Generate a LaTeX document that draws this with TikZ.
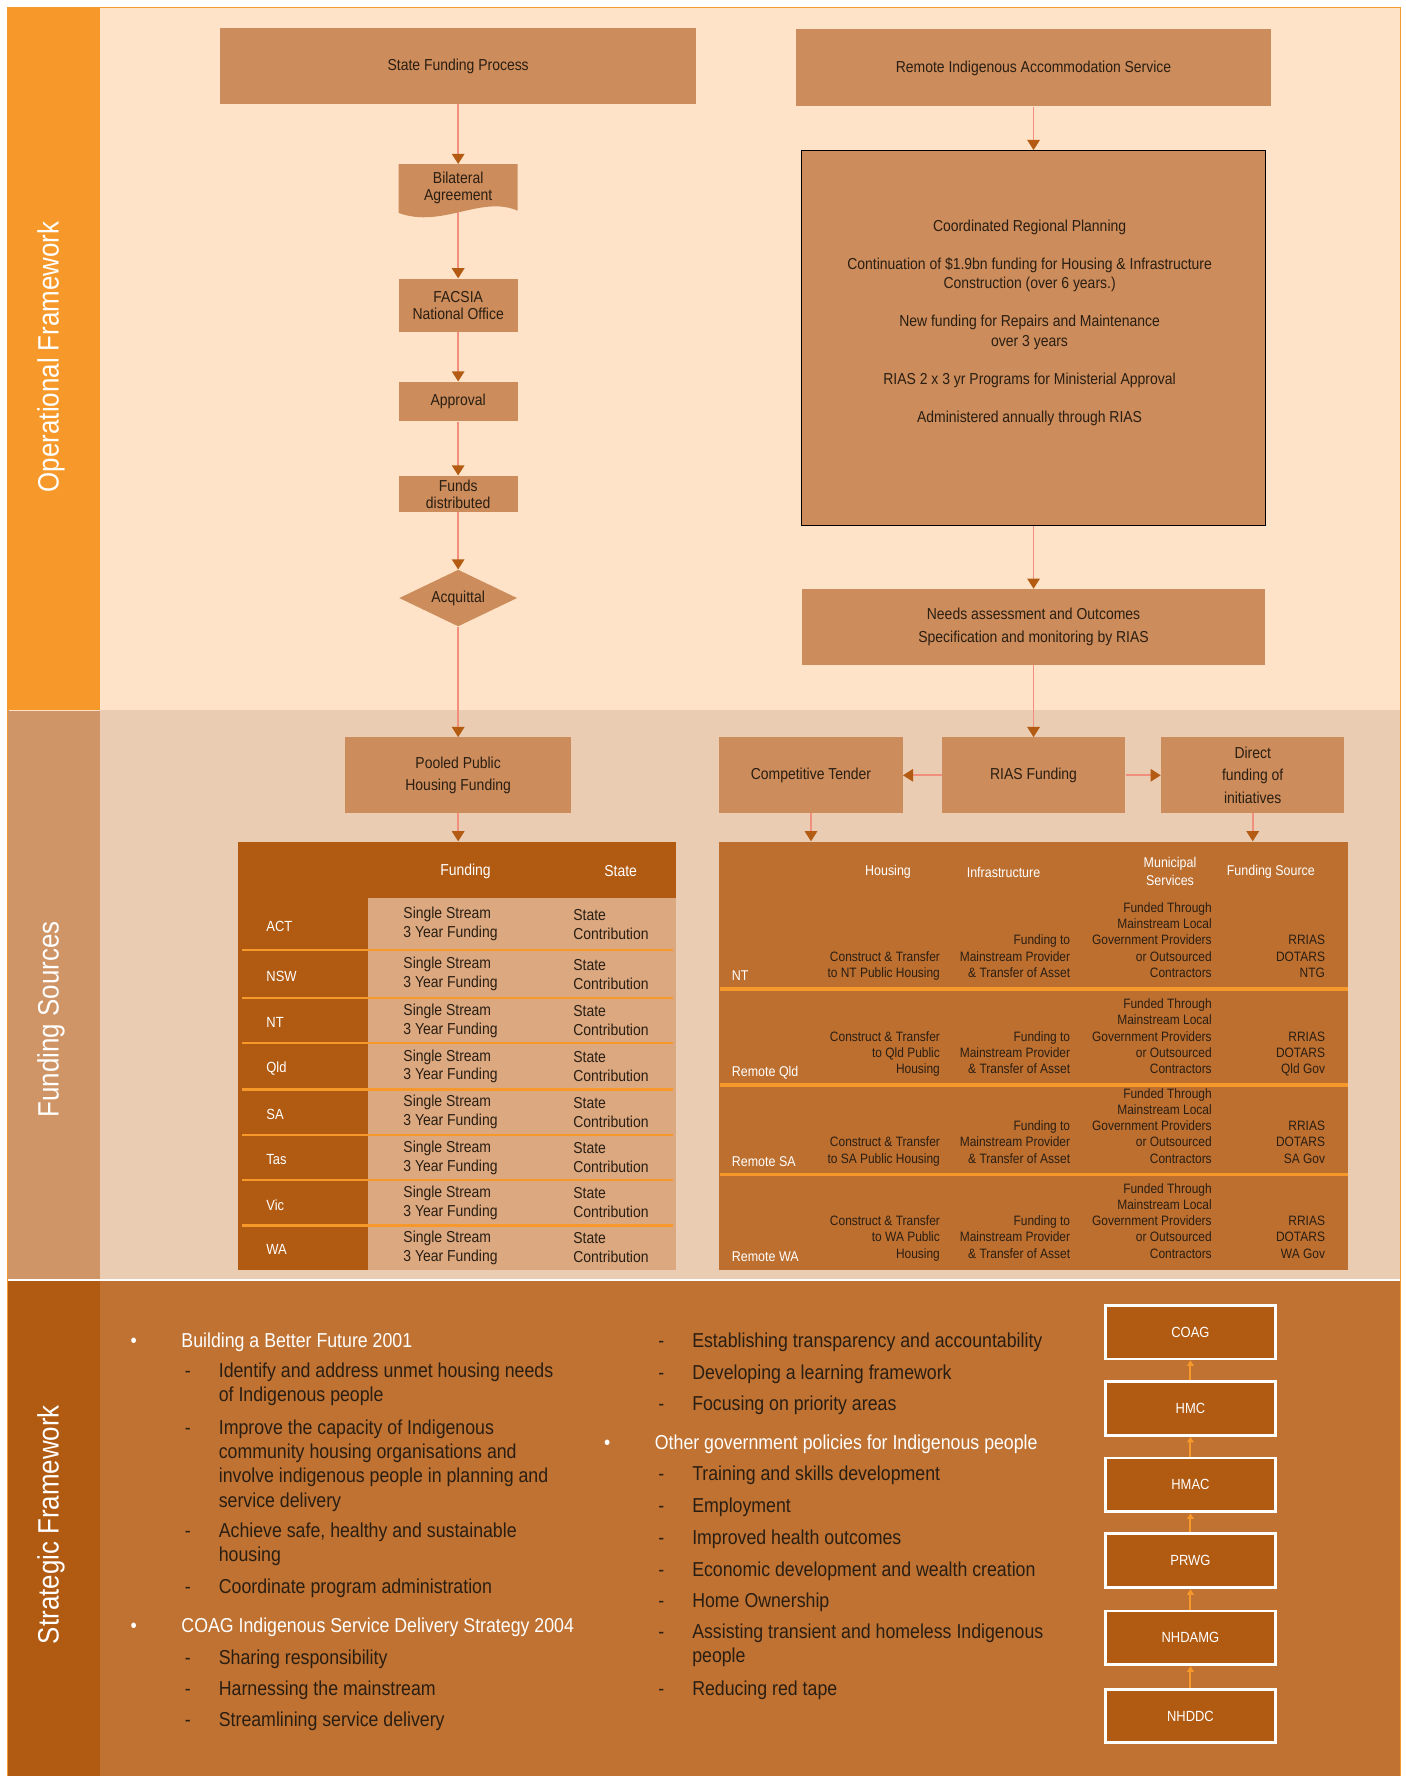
\documentclass[tikz,border=0pt]{standalone}
\usepackage{fontspec}
\setmainfont{Liberation Sans}[FakeStretch=0.88]
\usetikzlibrary{arrows.meta,shapes.geometric}

\definecolor{opside}{HTML}{F7992A}
\definecolor{opback}{HTML}{FEE3C8}
\definecolor{fuside}{HTML}{CF9566}
\definecolor{fuback}{HTML}{EACCB2}
\definecolor{stside}{HTML}{B15A11}
\definecolor{stback}{HTML}{BF7232}
\definecolor{boxfill}{HTML}{CC8C5B}
\definecolor{ink}{HTML}{2A1E12}
\definecolor{linkline}{HTML}{F28E7C}
\definecolor{tipfill}{HTML}{B35B12}
\definecolor{tablight}{HTML}{DBA880}
\definecolor{tabmid}{HTML}{BD6F30}

\tikzset{
    flowbox/.style={fill=boxfill, text=ink, align=center, inner sep=0pt,
        font=\fontsize{14}{20}\selectfont},
    smallbox/.style={flowbox, minimum width=105pt, font=\fontsize{14}{15}\selectfont},
    link/.style={draw=linkline, line width=1.5pt, ->},
    sidelabel/.style={text=white, rotate=90, font=\fontsize{26}{30}\selectfont},
    headtext/.style={text=white, align=center, inner sep=0pt},
    celltext/.style={text=ink, align=left, inner sep=0pt, font=\fontsize{14}{16.7}\selectfont},
    regtext/.style={text=ink, align=right, inner sep=0pt, text depth=3pt,
        font=\fontsize{12}{14.3}\selectfont},
    bodytext/.style={text=ink, inner sep=0pt, font=\fontsize{17.8}{21}\selectfont},
    stackbox/.style={fill=stside, draw=white, line width=2.5pt, text=white,
        minimum width=150pt, minimum height=47.5pt, font=\fontsize{13}{15}\selectfont},
    stacklink/.style={draw=opside, line width=1.8pt, -{Triangle[width=6pt,length=5pt]}}
}

\begin{document}
\begin{tikzpicture}[x=1pt, y=-1pt, >={Triangle[width=11pt,length=9pt,color=tipfill]}]
    % 1. Page, bands and frame
    \useasboundingbox (0,0) rectangle (1241,1568);
    \fill[opback] (7,7) rectangle (1236,627);
    \fill[fuback] (7,627) rectangle (1236,1130);
    \fill[stback] (7,1130) rectangle (1236,1568);
    \fill[opside] (7,7) rectangle (88,627);
    \fill[fuside] (7,627) rectangle (88,1130);
    \fill[stside] (7,1130) rectangle (88,1568);
    \draw[opback, line width=1pt] (8,627) -- (88,627);
    \draw[white, line width=1.5pt] (7,1130) -- (1236,1130);
    \draw[opside, line width=1.5pt] (6.5,1568) -- (6.5,6.5) -- (1236.5,6.5) -- (1236.5,1568);

    \node[sidelabel] (opf) at (45,315) {Operational Framework};
    \node[sidelabel] (fus) at (45,900) {Funding Sources};
    \node[sidelabel] (stf) at (45,1346) {Strategic Framework};

    % 2. State funding column
    \node[flowbox, minimum width=420pt, minimum height=67pt] (sfp) at (404.5,58.5) {State Funding Process};
    \fill[boxfill] (352,145) -- (457,145) -- (457,186)
        .. controls (425,172) and (390,202) .. (352,188) -- cycle;
    \node[smallbox, fill=none, minimum height=42pt] (bil) at (404.5,166) {Bilateral\\Agreement};
    \node[smallbox, minimum height=47pt] (facsia) at (404.5,269.5) {FACSIA\\National Office};
    \node[smallbox, minimum height=35pt] (appr) at (404.5,354.5) {Approval};
    \node[smallbox, minimum height=32pt] (funds) at (404.5,436) {Funds\\distributed};
    \node[flowbox, diamond, aspect=2.08, minimum width=104pt, minimum height=50pt] (acq) at (404.5,528) {Acquittal};
    \node[flowbox, minimum width=200pt, minimum height=67pt] (pooled) at (404.5,684.5) {Pooled Public\\Housing Funding};

    \draw[link] (sfp) -- (bil);
    \draw[link] (bil) -- (facsia);
    \draw[link] (facsia) -- (appr);
    \draw[link] (appr) -- (funds);
    \draw[link] (funds) -- (acq);
    \draw[link] (acq) -- (pooled);

    % 3. RIAS column
    \node[flowbox, minimum width=420pt, minimum height=68pt] (rias) at (912.5,60) {Remote Indigenous Accommodation Service};
    \node[flowbox, draw=black, line width=1pt, minimum width=409pt, minimum height=331pt] (plan) at (912.5,298.5) {};
    \node[flowbox, fill=none, font=\fontsize{14}{17.5}\selectfont] (plantext) at (909,285)
        {Coordinated Regional Planning\\[16pt]
         Continuation of \$1.9bn funding for Housing \& Infrastructure\\
         Construction (over 6 years.)\\[16pt]
         New funding for Repairs and Maintenance\\over 3 years\\[16pt]
         RIAS 2 x 3 yr Programs for Ministerial Approval\\[16pt]
         Administered annually through RIAS};
    \node[flowbox, minimum width=408pt, minimum height=67pt] (needs) at (912.5,553.5)
        {Needs assessment and Outcomes\\Specification and monitoring by RIAS};
    \node[flowbox, minimum width=162pt, minimum height=67pt] (riasf) at (912.5,684.5) {RIAS Funding};
    \node[flowbox, minimum width=162pt, minimum height=67pt] (ct) at (716,684.5) {Competitive Tender};
    \node[flowbox, minimum width=162pt, minimum height=67pt, font=\fontsize{14}{19.5}\selectfont] (direct) at (1106,684.5)
        {Direct\\funding of\\initiatives};

    \draw[link] (rias) -- (plan);
    \draw[link] (plan) -- (needs);
    \draw[link] (needs) -- (riasf);
    \draw[link] (riasf) -- (ct);
    \draw[link] (riasf) -- (direct);

    % 4. Funding tables
    \node[fill=stside, minimum width=387pt, minimum height=378pt, inner sep=0pt] (ltab) at (403.5,932) {};
    \fill[tablight] (325,793) rectangle (597,1121);
    \node[headtext, font=\fontsize{14}{16}\selectfont] (lhf) at (411,769) {Funding};
    \node[headtext, font=\fontsize{14}{16}\selectfont] (lhs) at (548,769) {State};
    \foreach \st/\ytop/\ybot [count=\i] in {ACT/793/839, NSW/839/881, NT/881/921, Qld/921/962,
        SA/962/1002, Tas/1002/1042, Vic/1042/1082, WA/1082/1121}{
        \node[headtext, anchor=west, font=\fontsize{13}{16}\selectfont] (st\i) at (235,{(\ytop+\ybot)/2+2}) {\st};
        \node[celltext, anchor=west] (sgl\i) at (356,{(\ytop+\ybot)/2}) {Single Stream\\3 Year Funding};
        \node[celltext, anchor=west] (ctb\i) at (506,{(\ytop+\ybot)/2}) {State\\Contribution};
    }
    \foreach \y in {839,881,921,962,1002,1042,1082}
        \draw[opside, line width=2pt] (214,\y) -- (594,\y);

    \node[fill=tabmid, minimum width=555pt, minimum height=378pt, inner sep=0pt] (rtab) at (912.5,932) {};
    \node[headtext, font=\fontsize{12.5}{15.7}\selectfont] (rhh) at (784,770) {Housing};
    \node[headtext, font=\fontsize{12.5}{15.7}\selectfont] (rhi) at (886,770) {Infrastructure};
    \node[headtext, font=\fontsize{12.5}{15.7}\selectfont] (rhm) at (1033,769.5) {Municipal\\Services};
    \node[headtext, font=\fontsize{12.5}{15.7}\selectfont] (rhf) at (1122,770) {Funding Source};
    \foreach \y in {873,958,1037}
        \draw[opside, line width=3pt] (636,\y) -- (1190,\y);
    \foreach \reg/\ybot/\hous/\src [count=\i] in {
        NT/873/{Construct \& Transfer\\to NT Public Housing}/{RRIAS\\DOTARS\\NTG},
        Remote Qld/958/{Construct \& Transfer\\to Qld Public\\Housing}/{RRIAS\\DOTARS\\Qld Gov},
        Remote SA/1037/{Construct \& Transfer\\to SA Public Housing}/{RRIAS\\DOTARS\\SA Gov},
        Remote WA/1121/{Construct \& Transfer\\to WA Public\\Housing}/{RRIAS\\DOTARS\\WA Gov}}{
        \node[headtext, anchor=south west, text depth=3pt, font=\fontsize{12.5}{15}\selectfont] (reg\i) at (646,\ybot-4) {\reg};
        \node[regtext, anchor=south east] (hous\i) at (830,\ybot-7) {\hous};
        \node[regtext, anchor=south east] (infr\i) at (945,\ybot-7) {Funding to\\Mainstream Provider\\\& Transfer of Asset};
        \node[regtext, anchor=south east] (muni\i) at (1070,\ybot-7)
            {Funded Through\\Mainstream Local\\Government Providers\\or Outsourced\\Contractors};
        \node[regtext, anchor=south east] (srce\i) at (1170,\ybot-7) {\src};
    }

    \draw[link] (pooled) -- (pooled |- ltab.north);
    \draw[link] (ct.south) -- (ct.south |- rtab.north);
    \draw[link] (direct.south) -- (direct.south |- rtab.north);

    % 5. Strategic framework lists
    \foreach \y/\txt [count=\i] in {1184/Building a Better Future 2001, 1436/COAG Indigenous Service Delivery Strategy 2004}{
        \node[bodytext, text=white, anchor=base] (lbul\i) at (118,\y+5.5) {\textbullet};
        \node[bodytext, text=white, anchor=base west] (lhd\i) at (160,\y+5.5) {\txt};
    }
    \foreach \y in {1211,1261,1352,1401,1464,1491,1519}
        \node[bodytext, anchor=base west] (ld\y) at (163,\y+5.5) {-};
    \foreach \y/\txt [count=\i] in {1211/Identify and address unmet housing needs, 1232/of Indigenous people,
        1261/Improve the capacity of Indigenous, 1282/community housing organisations and,
        1303/involve indigenous people in planning and, 1325/service delivery,
        1352/{Achieve safe, healthy and sustainable}, 1373/housing,
        1401/Coordinate program administration, 1464/Sharing responsibility,
        1491/Harnessing the mainstream, 1519/Streamlining service delivery}
        \node[bodytext, anchor=base west] (lt\i) at (193,\y+5.5) {\txt};

    \node[bodytext, text=white, anchor=base] (rbul) at (536,1279.5) {\textbullet};
    \node[bodytext, text=white, anchor=base west] (rhd) at (578,1279.5) {Other government policies for Indigenous people};
    \foreach \y in {1184,1212,1240,1302,1330,1358,1386,1414,1441,1491}
        \node[bodytext, anchor=base west] (rd\y) at (581,\y+5.5) {-};
    \foreach \y/\txt [count=\i] in {1184/Establishing transparency and accountability,
        1212/Developing a learning framework, 1240/Focusing on priority areas,
        1302/Training and skills development, 1330/Employment, 1358/Improved health outcomes,
        1386/Economic development and wealth creation, 1414/Home Ownership,
        1441/Assisting transient and homeless Indigenous, 1462/people, 1491/Reducing red tape}
        \node[bodytext, anchor=base west] (rt\i) at (611,\y+5.5) {\txt};

    % 6. Committee stack
    \foreach \nm/\lbl/\yc in {coag/COAG/1176, hmc/HMC/1243.5, hmac/HMAC/1311,
        prwg/PRWG/1378, nhdamg/NHDAMG/1446, nhddc/NHDDC/1515}
        \node[stackbox] (\nm) at (1051,\yc) {\lbl};
    \foreach \lo/\up in {hmc/coag, hmac/hmc, prwg/hmac, nhdamg/prwg, nhddc/nhdamg}
        \draw[stacklink] (\lo) -- (\up);
\end{tikzpicture}
\end{document}
